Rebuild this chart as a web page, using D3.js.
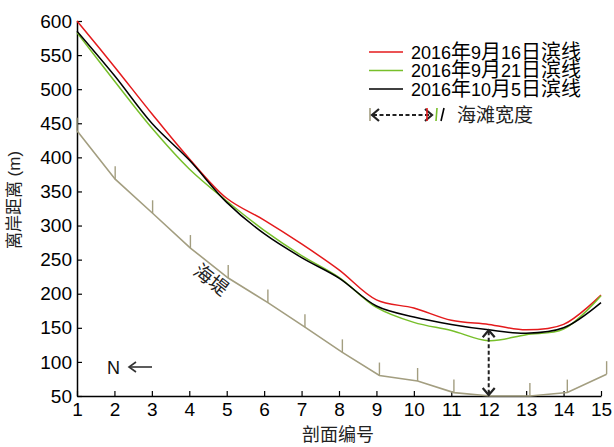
<!DOCTYPE html>
<html>
<head>
<meta charset="utf-8">
<script src="https://cdn.jsdelivr.net/npm/d3@7"></script>
<style>
  body { margin: 0; background: #fff; }
  svg { display: block; }
</style>
</head>
<body>
<div id="chart"></div>
<script>
// profile numbers along the x axis
const profiles = [1, 2, 3, 4, 5, 6, 7, 8, 9, 10, 11, 12, 13, 14, 15];

// shoreline distance (m) for each survey date
const shore0916 = [600, 533, 464, 398, 340, 308, 273, 235, 191, 179, 161, 155, 147, 155, 198];
const shore0921 = [583, 512, 443, 383, 336, 293, 256, 224, 180, 158, 146, 131, 140, 148, 197];
const shore1005 = [585, 520, 450, 396, 334, 288, 253, 223, 182, 166, 155, 147, 142, 150, 187];

// seawall line (vertices sit a little right of the profile ticks)
const seawallX = [1, 2.02, 3.02, 4.03, 5.04, 6.1, 7.09, 8.09, 9.08, 10.1, 11.07, 12.04, 13.1, 14.1, 15.15];
const seawallY = [439, 368, 318, 267, 223, 187, 151, 114, 80, 72, 55, 50, 50, 55, 82];

// beach width arrow at profile 12
const beachX = 12;
const beachTop = 148;
const beachBottom = 50;

const yTicks = [50, 100, 150, 200, 250, 300, 350, 400, 450, 500, 550, 600];
const seriesNames = ["2016年9月16日滨线", "2016年9月21日滨线", "2016年10月5日滨线"];
const seriesColors = ["#e41a1c", "#77bf2a", "#000000"];
const wallColor = "#a39e80";

const W = 614, H = 447;
const LATIN = "'Liberation Sans', Arial, sans-serif";
const CJK = "'Noto Sans CJK SC', sans-serif";

const svg = d3.select("#chart").append("svg")
    .attr("width", W)
    .attr("height", H);

const x = d3.scaleLinear().domain([1, 15]).range([77, 601]);
const y = d3.scaleLinear().domain([50, 600]).range([396, 21]);

// write a string as runs of latin / cjk tspans with their own sizes
function mixed(sel, str, latinSize, cjkSize) {
    const runs = str.match(/[\u3000-\u9fff\uff00-\uffef]+|[^\u3000-\u9fff\uff00-\uffef]+/g);
    runs.forEach(r => {
        const isCjk = /[\u3000-\u9fff\uff00-\uffef]/.test(r);
        sel.append("tspan")
            .style("font-family", isCjk ? CJK : LATIN)
            .style("font-size", (isCjk ? cjkSize : latinSize) + "px")
            .text(r);
    });
    return sel;
}

// axes
const yAxis = svg.append("g")
    .attr("transform", "translate(" + x(1) + ",0)")
    .call(d3.axisLeft(y).tickValues(yTicks).tickSizeInner(-5).tickSizeOuter(0).tickPadding(5));

const xAxis = svg.append("g")
    .attr("transform", "translate(0," + y(50) + ")")
    .call(d3.axisBottom(x).tickValues(profiles).tickSizeInner(-5).tickSizeOuter(0).tickPadding(7).tickFormat(d3.format("d")));

[yAxis, xAxis].forEach(a => {
    a.select(".domain").attr("stroke", "#000").attr("stroke-width", 1.5);
    a.selectAll(".tick line").attr("stroke", "#000").attr("stroke-width", 1.2);
    a.selectAll(".tick text")
        .attr("fill", "#000")
        .style("font-family", LATIN)
        .style("font-size", "19px");
});

// axis titles
mixed(svg.append("text")
    .attr("transform", "translate(20,200) rotate(-90)")
    .attr("text-anchor", "middle")
    .attr("fill", "#222"), "离岸距离 (m)", 17, 17);

mixed(svg.append("text")
    .attr("x", 338)
    .attr("y", 441)
    .attr("text-anchor", "middle")
    .attr("fill", "#222"), "剖面编号", 18, 18);

// seawall
const wall = profiles.map((p, i) => ({ x: seawallX[i], v: seawallY[i], p: p }));

svg.append("path")
    .datum(wall)
    .attr("fill", "none")
    .attr("stroke", wallColor)
    .attr("stroke-width", 1.6)
    .attr("d", d3.line().x(d => x(d.x)).y(d => y(d.v)));

// small hatch ticks on the seawall
svg.selectAll(".wallTick")
    .data(wall.filter(d => d.p !== beachX))
    .enter().append("line")
    .attr("class", "wallTick")
    .attr("x1", d => x(d.x))
    .attr("x2", d => x(d.x))
    .attr("y1", d => y(d.v))
    .attr("y2", d => y(d.v) - 13)
    .attr("stroke", wallColor)
    .attr("stroke-width", 1.4);

svg.append("text")
    .attr("transform", "translate(207,285) rotate(38)")
    .attr("text-anchor", "middle")
    .attr("fill", "#222")
    .style("font-family", CJK)
    .style("font-size", "19px")
    .text("海堤");

// shorelines
const shoreLine = d3.line()
    .curve(d3.curveCatmullRom.alpha(0.5))
    .x((d, i) => x(profiles[i]))
    .y(d => y(d));

[shore0916, shore0921, shore1005].forEach((s, k) => {
    svg.append("path")
        .datum(s)
        .attr("fill", "none")
        .attr("stroke", seriesColors[k])
        .attr("stroke-width", 1.5)
        .attr("d", shoreLine);
});

// beach width double arrow
function chevron(g, cx, cy, dir, horizontal) {
    // dir: -1 tip points up/left, +1 tip points down/right
    const s = 6, t = 7;
    const pts = horizontal
        ? [[cx - dir * t, cy - s], [cx, cy], [cx - dir * t, cy + s]]
        : [[cx - s, cy - dir * t], [cx, cy], [cx + s, cy - dir * t]];
    g.append("path")
        .attr("d", d3.line()(pts))
        .attr("fill", "none")
        .attr("stroke", "#222")
        .attr("stroke-width", 2.2);
}

const bx = x(beachX);
const arrowG = svg.append("g");
arrowG.append("line")
    .attr("x1", bx).attr("x2", bx)
    .attr("y1", y(beachTop) + 2).attr("y2", y(beachBottom) - 2)
    .attr("stroke", "#222")
    .attr("stroke-width", 2)
    .attr("stroke-dasharray", "4,2.5");
chevron(arrowG, bx, y(beachTop) + 1, -1, false);
chevron(arrowG, bx, y(beachBottom) - 1, 1, false);

// north arrow
svg.append("text")
    .attr("x", 107)
    .attr("y", 374)
    .attr("fill", "#111")
    .style("font-family", LATIN)
    .style("font-size", "18px")
    .text("N");
svg.append("line")
    .attr("x1", 129).attr("x2", 152)
    .attr("y1", 367).attr("y2", 367)
    .attr("stroke", "#333").attr("stroke-width", 1.6);
svg.append("path")
    .attr("d", "M136,362 L129,367 L136,372")
    .attr("fill", "none").attr("stroke", "#333").attr("stroke-width", 1.6);

// legend
const legend = svg.append("g").attr("transform", "translate(369,52)");
seriesNames.forEach((name, i) => {
    const row = legend.append("g").attr("transform", "translate(0," + (i * 18.5) + ")");
    row.append("line")
        .attr("x1", 0).attr("x2", 34)
        .attr("stroke", seriesColors[i]).attr("stroke-width", 1.5);
    mixed(row.append("text")
        .attr("x", 42)
        .attr("y", 6.5)
        .attr("fill", "#000"), name, 18, 20);
});

const lg = legend.append("g").attr("transform", "translate(0,63)");
lg.append("line")
    .attr("x1", 1).attr("x2", 1).attr("y1", -7).attr("y2", 6)
    .attr("stroke", wallColor).attr("stroke-width", 1.6);
lg.append("line")
    .attr("x1", 4).attr("x2", 62).attr("y1", 0).attr("y2", 0)
    .attr("stroke", "#222").attr("stroke-width", 2)
    .attr("stroke-dasharray", "4,2.5");
chevron(lg, 3, 0, -1, true);
chevron(lg, 63, 0, 1, true);
lg.append("line")
    .attr("x1", 58).attr("x2", 58).attr("y1", -7).attr("y2", 6)
    .attr("stroke", seriesColors[0]).attr("stroke-width", 1.6);
lg.append("line")
    .attr("x1", 68).attr("x2", 67).attr("y1", -7).attr("y2", 6)
    .attr("stroke", seriesColors[1]).attr("stroke-width", 1.6);
lg.append("line")
    .attr("x1", 75).attr("x2", 72).attr("y1", -7).attr("y2", 6)
    .attr("stroke", seriesColors[2]).attr("stroke-width", 1.6);
lg.append("text")
    .attr("x", 88)
    .attr("y", 7)
    .attr("fill", "#222")
    .style("font-family", CJK)
    .style("font-size", "19px")
    .text("海滩宽度");
</script>
</body>
</html>
